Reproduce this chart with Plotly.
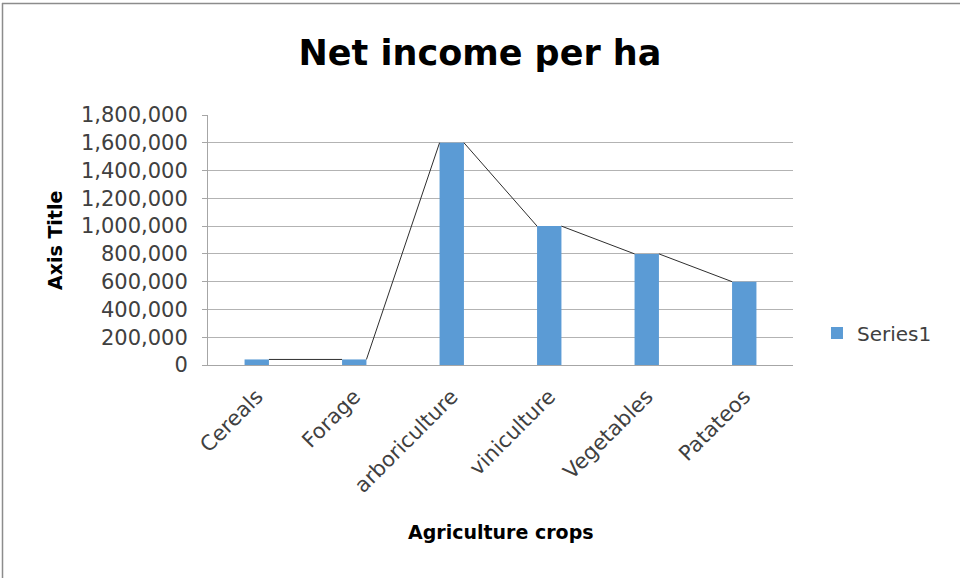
import plotly.graph_objects as go

categories = ["Cereals", "Forage", "arboriculture", "viniculture", "Vegetables", "Patateos"]
values = [40000, 40000, 1600000, 1000000, 800000, 600000]
y_ticks = [0, 200000, 400000, 600000, 800000, 1000000, 1200000, 1400000, 1600000, 1800000]
series_name = "Series1"

BAR_W = 0.25
FONT = "DejaVu Sans, sans-serif"
idx = list(range(len(categories)))

# plot area in px (for converting decorative positions)
L, R, T, B = 208, 793, 115, 365
PW, PH = R - L, B - T


def px_x(x):
    return (x - L) / PW


def px_y(y):
    return (B - y) / PH


# connecting series lines: right top of bar i -> left top of bar i+1
lx, ly = [], []
for i in range(len(values) - 1):
    lx += [i + BAR_W / 2, i + 1 - BAR_W / 2, None]
    ly += [values[i], values[i + 1], None]

fig = go.Figure()
fig.add_trace(go.Bar(x=idx, y=values, width=BAR_W, name=series_name,
                     marker=dict(color="#5B9BD5", line=dict(width=0))))
fig.add_trace(go.Scatter(x=lx, y=ly, mode="lines", showlegend=False,
                         line=dict(color="#2e2e2e", width=1), hoverinfo="skip"))

fig.update_layout(
    width=960, height=578,
    margin=dict(l=L, r=960 - R, t=T, b=578 - B),
    paper_bgcolor="white", plot_bgcolor="white",
    font=dict(family=FONT, color="#404040", size=21),
    title=dict(text="<b>Net income per ha</b>", x=0.5, xanchor="center",
               yref="container", y=1 - 53 / 578, yanchor="middle",
               font=dict(size=35, color="#000000", family=FONT)),
    showlegend=True,
    legend=dict(x=1.041, y=px_y(333), xanchor="left", yanchor="middle",
                font=dict(size=20, color="#404040"), itemwidth=30,
                bgcolor="rgba(0,0,0,0)"),
    shapes=[
        dict(type="line", xref="paper", yref="paper",
             x0=px_x(2), x1=px_x(962), y0=px_y(3.5), y1=px_y(3.5),
             line=dict(color="#8c8c8c", width=1.5)),
        dict(type="line", xref="paper", yref="paper",
             x0=px_x(2.5), x1=px_x(2.5), y0=px_y(3), y1=px_y(580),
             line=dict(color="#8c8c8c", width=1.5)),
    ],
    annotations=[
        dict(text="<b>Agriculture crops</b>", xref="paper", yref="paper",
             x=0.5, y=px_y(532), xanchor="center", yanchor="middle", showarrow=False,
             font=dict(size=19, color="#000000", family=FONT)),
        dict(text="<b>Axis Title</b>", xref="paper", yref="paper", textangle=-90,
             x=px_x(55), y=px_y(241), xanchor="center", yanchor="middle", showarrow=False,
             font=dict(size=19, color="#000000", family=FONT)),
    ],
)
fig.update_xaxes(
    range=[-0.5, len(categories) - 0.5],
    tickmode="array", tickvals=idx, ticktext=categories,
    tickangle=-45, showgrid=False, showline=True, linecolor="#a6a6a6",
    ticks="", tickfont=dict(size=21, color="#404040"), ticklabelstandoff=10,
    zeroline=False,
)
fig.update_yaxes(
    range=[0, 1800000], tickmode="array", tickvals=y_ticks,
    ticktext=[f"{v:,}" for v in y_ticks],
    showgrid=True, gridcolor="#b3b3b3", gridwidth=1,
    showline=True, linecolor="#a6a6a6", ticks="outside", ticklen=5, tickcolor="#a6a6a6",
    tickfont=dict(size=21, color="#404040"), ticklabelstandoff=10,
    zeroline=False,
)

fig.write_html("out.html", config={"displayModeBar": False},
               post_script="document.body.style.margin='0';")
